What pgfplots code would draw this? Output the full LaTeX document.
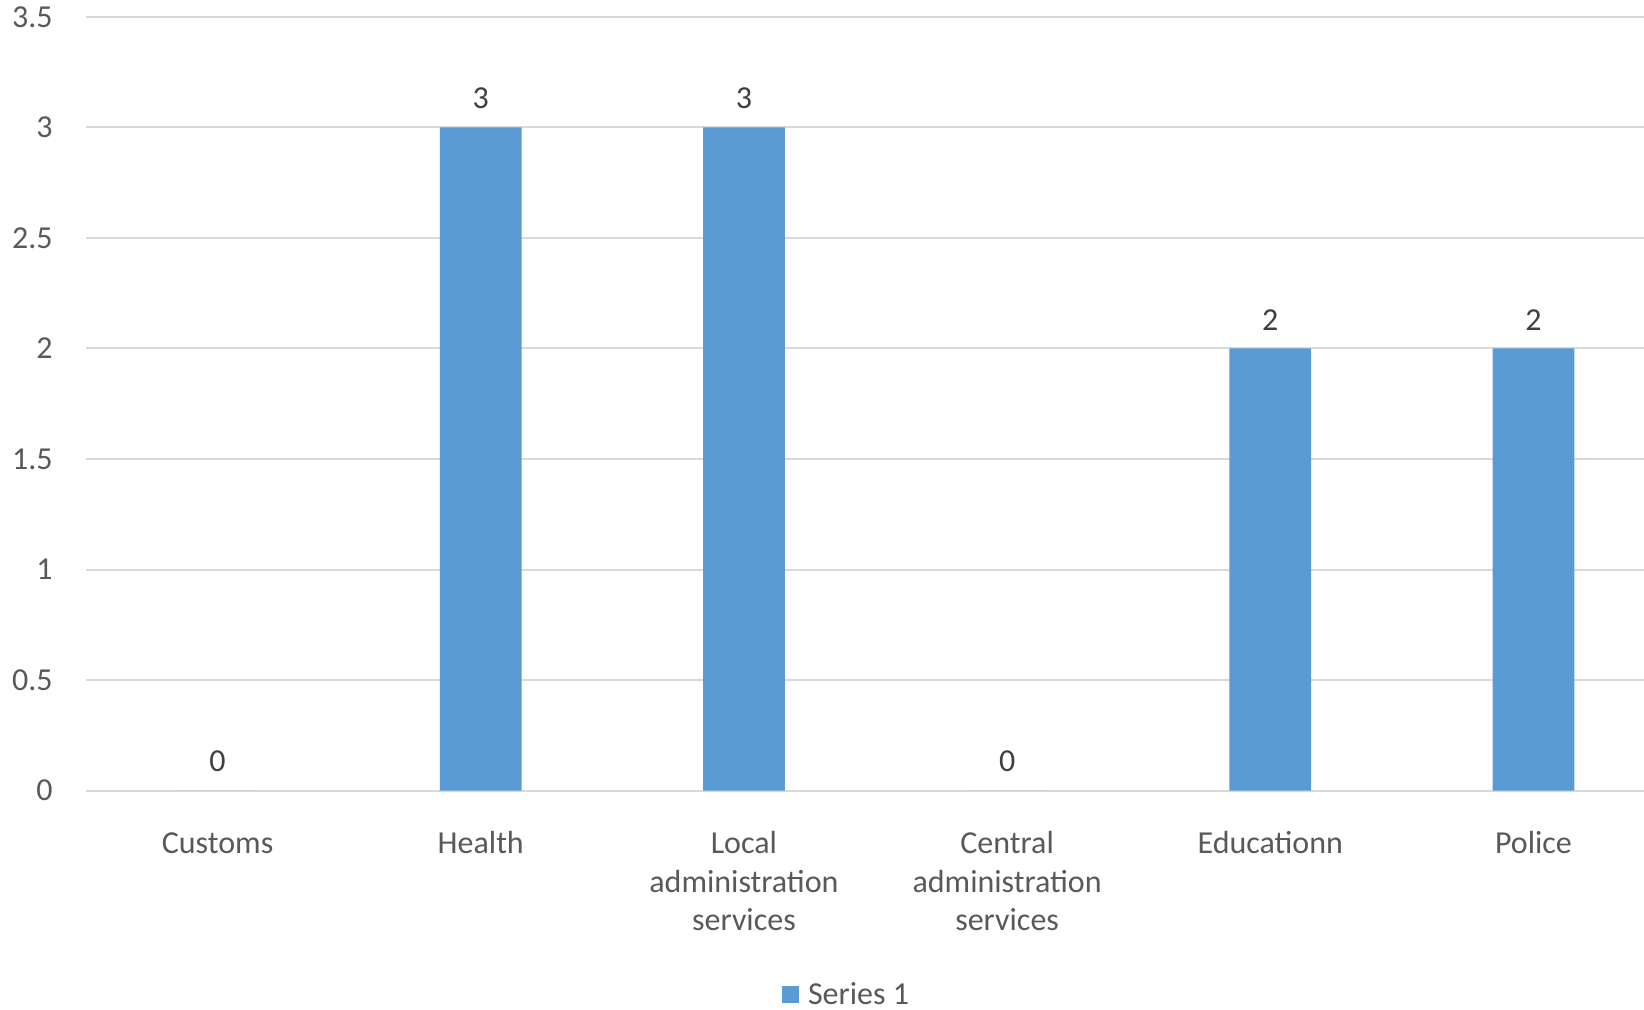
\documentclass[border=0pt]{standalone}
\usepackage{fontspec}
\setmainfont{Carlito}
\usepackage{pgfplots}
\pgfplotsset{compat=1.18}
\definecolor{barblue}{HTML}{5B9BD5}
\definecolor{ticktext}{HTML}{595959}
\definecolor{labeltext}{HTML}{404040}
\definecolor{gridc}{HTML}{D9D9D9}
\begin{document}
\begin{tikzpicture}
\begin{axis}[
  at={(0,0)}, anchor=south west,
  scale only axis, width=779pt, height=386.9pt,
  xmin=-0.5, xmax=5.42, ymin=0, ymax=3.5,
  ybar, bar width=40.9pt, bar shift=0pt,
  /pgf/number format/assume math mode=true,
  axis line style={draw=none},
  tick style={draw=none},
  ymajorgrids, major grid style={draw=gridc, line width=1pt},
  xtick={0,1,2,3,4,5},
  xticklabels={{\vphantom{l}Customs}, Health, {Local\\administration\\services}, {Central\\administration\\services}, Educationn, Police},
  ytick={0,0.5,1,1.5,2,2.5,3,3.5},
  xticklabel style={font=\fontsize{16}{19.4}\selectfont, color=ticktext, align=center, anchor=north, inner sep=0pt, yshift=-15.8pt},
  yticklabel style={font=\fontsize{16}{19.4}\selectfont, color=ticktext, anchor=east, inner sep=0pt, xshift=-16.5pt},
  nodes near coords,
  every node near coord/.append style={font=\fontsize{16}{19.4}\selectfont, color=labeltext, anchor=south, inner sep=0pt, yshift=9pt},
  legend style={at={(rel axis cs:0.4888,0)}, anchor=center, yshift=-102.2pt, draw=none, fill=none, inner sep=0pt,
    font=\fontsize{16}{19.4}\selectfont, text=ticktext, nodes={inner sep=2pt},
    /tikz/every odd column/.append style={column sep=2.5pt}},
  legend image code/.code={\fill[barblue] (0pt,-4.25pt) rectangle (8.5pt,4.25pt);},
]
\addplot[fill=barblue, draw=none] coordinates {(0,0) (1,3) (2,3) (3,0) (4,2) (5,2)};
\addlegendentry{Series 1}
\end{axis}
\pgfresetboundingbox
\path[use as bounding box] (-43pt,-109.7pt) rectangle (779pt,395.3pt);
\end{tikzpicture}
\end{document}
